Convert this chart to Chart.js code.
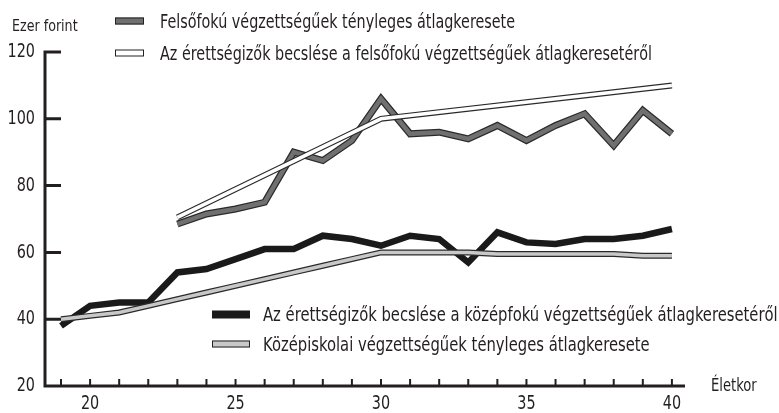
<!DOCTYPE html>
<html><head><meta charset="utf-8">
<script src="https://cdn.jsdelivr.net/npm/chart.js@4/dist/chart.umd.min.js"></script>
<style>
body{margin:0;background:#fff;}
#wrap{position:relative;width:779px;height:413px;font-family:"Liberation Sans Narrow","DejaVu Sans Condensed",Roboto,sans-serif;color:#231f20;overflow:hidden;}
canvas{position:absolute;left:0;top:0;}
.lbl{position:absolute;white-space:nowrap;line-height:1;transform-origin:left center;}
.leg{position:absolute;display:flex;align-items:center;white-space:nowrap;font-size:19px;line-height:1;transform:translateY(-50%);}
.leg .t{display:inline-block;transform:scaleX(0.84);transform-origin:left center;}
.leg .t.b{transform:scaleX(0.865);}
.sw{display:inline-block;box-sizing:border-box;}
</style></head>
<body><div id="wrap"><canvas id="c" width="779" height="413"></canvas>
<div class="lbl" style="left:12px;top:26px;font-size:16px;transform:translateY(-50%) scaleX(0.88);">Ezer forint</div>
<div class="lbl" style="left:711px;top:385px;font-size:17px;transform:translateY(-50%) scaleX(0.86);">Életkor</div>
<div class="leg" style="left:115px;top:21px;"><span class="sw" style="width:29px;height:7px;background:#707070;border:1px solid #222;"></span><span class="t" style="margin-left:16px">Felsőfokú végzettségűek tényleges átlagkeresete</span></div>
<div class="leg" style="left:115px;top:53px;"><span class="sw" style="width:29px;height:7px;background:#fff;border:1.5px solid #222;"></span><span class="t" style="margin-left:16px">Az érettségizők becslése a felsőfokú végzettségűek átlagkeresetéről</span></div>
<div class="leg" style="left:212px;top:314px;"><span class="sw" style="width:38px;height:8px;background:#1a1a1a;"></span><span class="t b" style="margin-left:13px">Az érettségizők becslése a középfokú végzettségűek átlagkeresetéről</span></div>
<div class="leg" style="left:212px;top:344px;"><span class="sw" style="width:38px;height:7px;background:#c8c8c8;border:1.5px solid #222;"></span><span class="t b" style="margin-left:13px">Középiskolai végzettségűek tényleges átlagkeresete</span></div>
</div>
<script>
const FONT = '"Liberation Sans Narrow","DejaVu Sans Condensed",Roboto,sans-serif';
// Age categories
const ages = [19,20,21,22,23,24,25,26,27,28,29,30,31,32,33,34,35,36,37,38,39,40];
// Secondary (érettségizők) estimate of secondary-educated earnings
const secEstimate = [38,44,45,45,54,55,58,61,61,65,64,62,65,64,57,66,63,62.5,64,64,65,67];
// Actual secondary-educated earnings
const secActual = [40,41,42,44,46,48,50,52,54,56,58,60,60,60,60,59.5,59.5,59.5,59.5,59.5,59,59];
// Higher-educated actual earnings
const higherAges = [23,24,25,26,27,28,29,30,31,32,33,34,35,36,37,38,39,40];
const higherActual = [68.5,71.5,73,75,90,87.5,93.5,106,95.5,96,94,98,93.5,98,101.5,92,102.5,95.5];
// Estimate of higher-educated earnings
const higherEstAges = [23,30,40];
const higherEstimate = [70.5,100,110];
// Tick labels
const yTickValues = [20,40,60,80,100,120];
const xTickValues = [20,25,30,35,40];

function pts(xs, ys){ return xs.map((x,i)=>({x:x, y:ys[i]})); }
function ds(xs, ys, color, width, order){
  return {data:pts(xs,ys), borderColor:color, borderWidth:width, pointRadius:0, tension:0,
    borderJoinStyle:'miter', borderCapStyle:'butt', fill:false, order:order, clip:false};
}

const axesPlugin = {
  id:'axes',
  beforeDatasetsDraw(chart){
    const {ctx, chartArea:a, scales:{x, y}} = chart;
    ctx.save();
    ctx.strokeStyle = '#231f20';
    ctx.lineCap = 'butt';
    ctx.lineWidth = 3;
    const yTop = y.getPixelForValue(120);
    ctx.beginPath();
    ctx.moveTo(a.left, yTop - 1.5); ctx.lineTo(a.left, a.bottom + 1.5);
    ctx.moveTo(a.left - 1.5, a.bottom); ctx.lineTo(a.right, a.bottom);
    yTickValues.slice(1).forEach(v=>{
      const py = y.getPixelForValue(v);
      ctx.moveTo(a.left, py); ctx.lineTo(a.left + 16, py);
    });
    ctx.stroke();
    ctx.lineWidth = 2;
    ctx.beginPath();
    ages.forEach(v=>{
      const px = x.getPixelForValue(v);
      ctx.moveTo(px, a.bottom); ctx.lineTo(px, a.bottom - 7);
    });
    ctx.stroke();
    // tick labels (condensed)
    ctx.fillStyle = '#231f20';
    ctx.font = '20px ' + FONT;
    ctx.textBaseline = 'middle';
    ctx.textAlign = 'right';
    y.ticks.forEach(t=>{
      const py = y.getPixelForValue(t.value);
      ctx.save(); ctx.translate(35, py); ctx.scale(0.8, 1); ctx.fillText(String(t.value), 0, 0); ctx.restore();
    });
    ctx.textAlign = 'center';
    x.ticks.forEach(t=>{
      const px = x.getPixelForValue(t.value);
      ctx.save(); ctx.translate(px, a.bottom + 18); ctx.scale(0.8, 1); ctx.fillText(String(t.value), 0, 0); ctx.restore();
    });
    ctx.restore();
  }
};

new Chart(document.getElementById('c'), {
  type:'line',
  data:{datasets:[
    ds(higherAges, higherActual, '#2a2a2a', 7, 8),
    ds(higherAges, higherActual, '#707070', 4.5, 7),
    ds(higherEstAges, higherEstimate, '#2a2a2a', 6, 6),
    ds(higherEstAges, higherEstimate, '#ffffff', 3.5, 5),
    ds(ages, secEstimate, '#1a1a1a', 6.5, 4),
    ds(ages, secActual, '#2a2a2a', 6, 3),
    ds(ages, secActual, '#c8c8c8', 3.5, 2)
  ]},
  options:{
    responsive:false, devicePixelRatio:1, animation:false, events:[],
    layout:{padding:{top:52, right:94, left:0, bottom:0}},
    plugins:{legend:{display:false}, tooltip:{enabled:false}},
    scales:{
      x:{type:'linear', min:18.45, max:40.45,
        grid:{display:false}, border:{display:false},
        afterBuildTicks:s=>{ s.ticks = xTickValues.map(v=>({value:v})); },
        afterFit:s=>{ s.height = 27; },
        ticks:{display:false}
      },
      y:{type:'linear', min:20, max:120,
        grid:{display:false}, border:{display:false},
        afterBuildTicks:s=>{ s.ticks = yTickValues.map(v=>({value:v})); },
        afterFit:s=>{ s.width = 45; },
        ticks:{display:false}
      }
    }
  },
  plugins:[axesPlugin]
});
</script>
</body></html>
